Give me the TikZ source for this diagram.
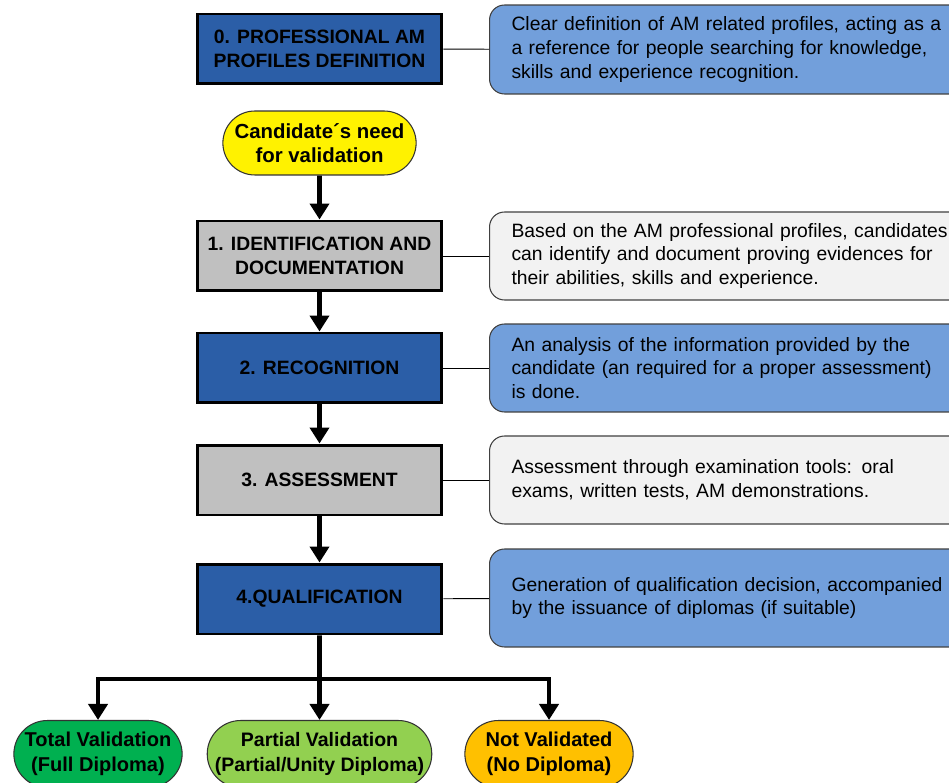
\documentclass[tikz,border=0pt]{standalone}
\usepackage{fontspec}
\setmainfont{Liberation Sans}
\usetikzlibrary{arrows.meta,shapes.misc}
\definecolor{stepblue}{HTML}{2B5EA7}
\definecolor{noteblue}{HTML}{729FDB}
\definecolor{stepgray}{HTML}{C0C0C0}
\definecolor{notegray}{HTML}{F2F2F2}
\definecolor{okgreen}{HTML}{00B050}
\definecolor{partgreen}{HTML}{92D050}
\definecolor{noorange}{HTML}{FFC000}

\begin{document}
\begin{tikzpicture}[x=0.02cm,y=-0.02cm,
    stepbox/.style={draw,line width=1.7pt,minimum width=4.9cm,minimum height=1.4cm,
      align=center,font=\fontsize{11}{13.4}\selectfont\bfseries},
    note/.style={draw=black!75,line width=0.6pt,rounded corners=0.3cm,anchor=west,
      minimum height=1.76cm,text width=9.4cm,align=left,inner xsep=0.44cm,
      font=\fontsize{11}{13.4}\selectfont},
    pill/.style={draw=black!80,line width=0.6pt,rounded rectangle,align=center,
      font=\fontsize{11.4}{14}\selectfont\bfseries},
    flow/.style={line width=2.7pt,-{Triangle[length=0.32cm,width=0.38cm]}},
    link/.style={draw=black,line width=0.5pt}]
        \clip (0,0) rectangle (949,783);
        \fill[white] (0,0) rectangle (949,783);
        \node[stepbox,fill=stepblue] (s0) at (319.5,49) {0. PROFESSIONAL AM\\PROFILES DEFINITION};
        \node[note,fill=noteblue,minimum height=1.78cm] (n0) at (489,49.5) {Clear definition of AM related profiles, acting as a\\a reference for people searching for knowledge,\\skills and experience recognition.};
        \node[pill,fill=yellow,minimum width=4.1cm,minimum height=1.28cm,font=\fontsize{11.6}{13.4}\selectfont\bfseries] (cand) at (319.5,143) {Candidate´s need\\for validation};
        \node[stepbox,fill=stepgray] (s1) at (319.5,256) {1. IDENTIFICATION AND\\DOCUMENTATION};
        \node[note,fill=notegray] (n1) at (489,256) {Based on the AM professional profiles, candidates\\can identify and document proving evidences for\\their abilities, skills and experience.};
        \node[stepbox,fill=stepblue] (s2) at (319.5,368) {2. RECOGNITION};
        \node[note,fill=noteblue] (n2) at (489,368) {An analysis of the information provided by the\\candidate (an required for a proper assessment)\\is done.};
        \node[stepbox,fill=stepgray] (s3) at (319.5,480) {3. ASSESSMENT};
        \node[note,fill=notegray] (n3) at (489,480) {Assessment through examination tools: oral\\exams, written tests, AM demonstrations.};
        \node[stepbox,fill=stepblue] (s4) at (319.5,599) {4.QUALIFICATION};
        \node[note,fill=noteblue,minimum height=1.96cm] (n4) at (489,598) {Generation of qualification decision, accompanied\\by the issuance of diplomas (if suitable)};
        \node[pill,fill=okgreen,minimum width=3.6cm,minimum height=1.34cm] (total) at (98,754) {Total Validation\\(Full Diploma)};
        \node[pill,fill=partgreen,minimum width=4.34cm,minimum height=1.34cm,inner xsep=0pt,font=\fontsize{11.1}{14}\selectfont\bfseries] (partial) at (319.5,754) {Partial Validation\\(Partial/Unity Diploma)};
        \node[pill,fill=noorange,minimum width=3.6cm,minimum height=1.34cm] (none) at (549,754) {Not Validated\\(No Diploma)};
        \coordinate (split) at (319.5,679);
        \draw[link] (s0) -- (n0);
        \draw[link] (s1) -- (n1);
        \draw[link] (s2) -- (n2);
        \draw[link] (s3) -- (n3);
        \draw[link] (s4) -- (n4);
        \draw[flow] (cand) -- (s1);
        \draw[flow] (s1) -- (s2);
        \draw[flow] (s2) -- (s3);
        \draw[flow] (s3) -- (s4);
        \draw[flow] (s4) -- (partial);
        \draw[flow] (split) -| (total);
        \draw[flow] (split) -| (none);
    \end{tikzpicture}
\end{document}
